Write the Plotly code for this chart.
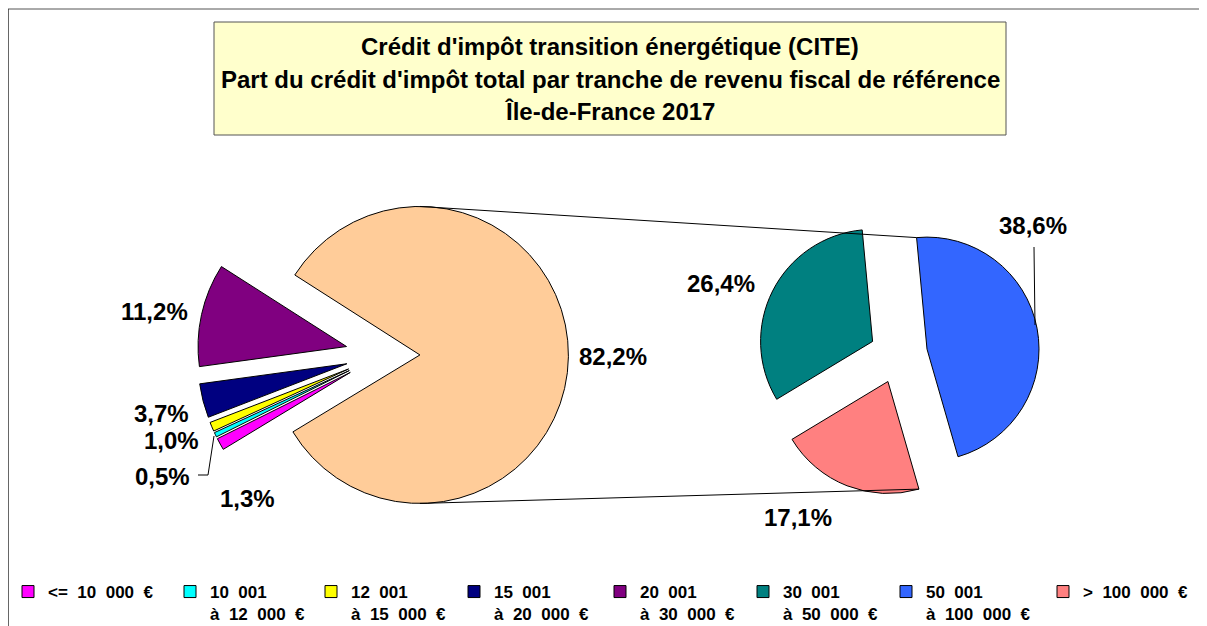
import math
import plotly.graph_objects as go

# browser window and page offset (default body margin of the html page)
WIN_W, WIN_H, OFF = 1207, 626, 8
FW, FH = WIN_W - OFF, WIN_H - OFF

# ---------------- data ----------------
categories = ["<= 10 000 €", "10 001 à 12 000 €", "12 001 à 15 000 €", "15 001 à 20 000 €",
              "20 001 à 30 000 €", "30 001 à 50 000 €", "50 001 à 100 000 €", "> 100 000 €"]
legend_names = ["&lt;= 10 000 €", "10 001<br>à 12 000 €", "12 001<br>à 15 000 €", "15 001<br>à 20 000 €",
                "20 001<br>à 30 000 €", "30 001<br>à 50 000 €", "50 001<br>à 100 000 €", "&gt; 100 000 €"]
colors = ["#FF00FF", "#00FFFF", "#FFFF00", "#000080", "#800080", "#008080", "#3366FF", "#FF8080"]

main_labels = categories[:5] + ["Autres (30 001 € et plus)"]
main_values = [1.3, 0.5, 1.0, 3.7, 11.2, 82.2]
main_colors = colors[:5] + ["#FFCC99"]

detail_labels = categories[5:]
detail_values = [26.4, 38.6, 17.1]
detail_colors = colors[5:]

title_lines = ["Crédit d'impôt transition énergétique (CITE)",
               "Part du crédit d'impôt total par tranche de revenu fiscal de référence",
               "Île-de-France 2017"]

# ---------------- geometry / style (screen pixel positions) ----------------
FONT = "Liberation Sans, Arial, sans-serif"
L_C, L_R, L_PULL = (382.8, 354.5), 148.5, 0.25
R_C, R_R, R_PULL = (898.5, 354.5), 112.0, 0.259
L_ROT, R_ROT = 238.8, 238.9


def px(x, y):
    """screen pixel -> paper coordinates"""
    return (x - OFF) / FW, 1 - (y - OFF) / FH


def dom(c, r, pull):
    half = r * (1 + pull)
    x0, y1 = px(c[0] - half, c[1] - half)
    x1, y0 = px(c[0] + half, c[1] + half)
    return dict(x=[x0, x1], y=[y0, y1])


def fmt(v):
    return f"{v:.1f}".replace(".", ",") + "%"


fig = go.Figure()

fig.add_trace(go.Pie(
    labels=main_labels, values=main_values, sort=False, direction="clockwise",
    rotation=L_ROT, pull=[L_PULL] * 6, domain=dom(L_C, L_R, L_PULL),
    marker=dict(colors=main_colors, line=dict(color="black", width=1)),
    textinfo="none", showlegend=False, hoverinfo="label+percent"))

fig.add_trace(go.Pie(
    labels=detail_labels, values=detail_values, sort=False, direction="clockwise",
    rotation=R_ROT, pull=[R_PULL] * 3, domain=dom(R_C, R_R, R_PULL),
    marker=dict(colors=detail_colors, line=dict(color="black", width=1)),
    textinfo="none", showlegend=False, hoverinfo="label+value"))

# legend entries
legend_widths = [117, 96, 98, 101, 98, 98, 112, 110]
for name, col, lw in zip(legend_names, colors, legend_widths):
    fig.add_trace(go.Scatter(
        x=[None], y=[None], mode="markers", name=name.replace(" ", "\u2007"), legendwidth=lw,
        marker=dict(symbol="square", size=12, color=col, line=dict(color="black", width=1)),
        hoverinfo="skip"))

# ---------------- shapes ----------------
shapes = []
bx0, by1 = px(8, 9)
# outer chart frame (only top and left edges are inside the window)
shapes.append(dict(type="line", xref="paper", yref="paper", x0=bx0, y0=by1, x1=1.05, y1=by1,
                   line=dict(color="#555555", width=1), layer="below"))
shapes.append(dict(type="line", xref="paper", yref="paper", x0=bx0, y0=by1, x1=bx0, y1=-0.05,
                   line=dict(color="#333333", width=1.5), layer="below"))
tx0, ty1 = px(214, 22)
tx1, ty0 = px(1006, 135)
shapes.append(dict(type="rect", xref="paper", yref="paper", x0=tx0, x1=tx1, y0=ty0, y1=ty1,
                   fillcolor="#FFFFCC", line=dict(color="#555555", width=1), layer="below"))


def pt(c, r, ang):
    a = math.radians(ang)
    return c[0] + r * math.sin(a), c[1] - r * math.cos(a)


# connector lines computed from the pie geometry
mtot = sum(main_values)
peach_start = L_ROT + 360 * sum(main_values[:5]) / mtot
peach_mid = (peach_start + L_ROT + 360) / 2
peach_c = pt(L_C, L_PULL * L_R, peach_mid)
peach_top = (peach_c[0], peach_c[1] - L_R)
peach_bot = (peach_c[0], peach_c[1] + L_R)

tot = sum(detail_values)
th0 = R_ROT
th1 = th0 + 360 * detail_values[0] / tot
th2 = th1 + 360 * detail_values[1] / tot
th3 = th0 + 360
blue_tip = pt(R_C, R_PULL * R_R, (th1 + th2) / 2)
blue_top = pt(blue_tip, R_R, th1)
sal_tip = pt(R_C, R_PULL * R_R, (th2 + th3) / 2)
sal_corner = pt(sal_tip, R_R, th2)
for a, b in [(peach_top, blue_top), (peach_bot, sal_corner)]:
    x0, y0 = px(*a)
    x1, y1 = px(*b)
    shapes.append(dict(type="line", xref="paper", yref="paper", x0=x0, y0=y0, x1=x1, y1=y1,
                       line=dict(color="black", width=1)))


def path(points):
    s = ""
    for i, (x, y) in enumerate(points):
        X, Y = px(x, y)
        s += ("M" if i == 0 else "L") + f"{X},{Y}"
    return s


shapes.append(dict(type="path", xref="paper", yref="paper",
                   path=path([(198, 475), (208, 475), (214, 436)]),
                   line=dict(color="black", width=1)))
shapes.append(dict(type="path", xref="paper", yref="paper",
                   path=path([(1034, 247), (1035, 325)]),
                   line=dict(color="black", width=1)))

# ---------------- annotations ----------------
annotations = []
title_y = [46.5, 79, 111.5]
for line, y in zip(title_lines, title_y):
    X, Y = px(610, y)
    annotations.append(dict(text=line, x=X, y=Y, xref="paper", yref="paper", showarrow=False,
                            xanchor="center", yanchor="middle",
                            font=dict(family=FONT, size=24, color="black", weight="bold")))

label_pos_main = [(247.5, 498), (162.8, 476), (171.3, 440.5), (161.3, 413), (154.7, 311.7), (613, 356.5)]
label_pos_detail = [(721, 283), (1032.5, 225), (798, 517)]
for v, (x, y) in zip(main_values + detail_values, label_pos_main + label_pos_detail):
    X, Y = px(x, y)
    annotations.append(dict(text=fmt(v), x=X, y=Y, xref="paper", yref="paper", showarrow=False,
                            xanchor="center", yanchor="middle",
                            font=dict(family=FONT, size=24, color="black", weight="bold")))

lx, ly = px(OFF, 574)
fig.update_layout(
    width=FW, height=FH, autosize=False,
    margin=dict(l=0, r=0, t=0, b=0, autoexpand=False),
    paper_bgcolor="white", plot_bgcolor="white",
    xaxis=dict(visible=False), yaxis=dict(visible=False),
    shapes=shapes, annotations=annotations,
    showlegend=True,
    legend=dict(orientation="h", x=lx, xanchor="left", y=ly, yanchor="top",
                valign="top", bgcolor="rgba(0,0,0,0)", itemwidth=30, tracegroupgap=0,
                font=dict(family=FONT, size=17, color="black", weight="bold")),
)

fig.write_html("out.html")
